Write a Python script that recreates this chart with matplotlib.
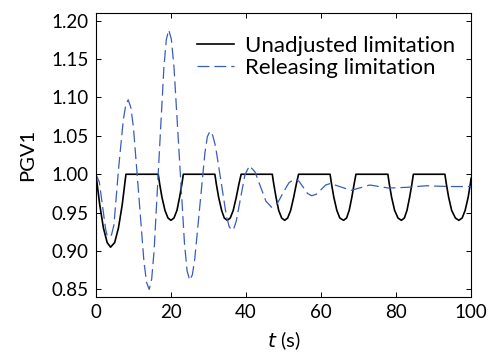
import matplotlib
matplotlib.use('Agg')
import matplotlib.pyplot as plt

# Unadjusted limitation (black, solid)
t_unadj = [0.0, 1.0, 2.0, 3.0, 3.9, 5.0, 6.0, 7.0, 8.0,
           16.6, 17.0, 17.6, 18.4, 19.2, 20.0, 20.8, 21.6, 22.3, 22.9, 23.3,
           31.7, 32.1, 32.7, 33.5, 34.2, 35.0, 35.8, 36.6, 37.4, 38.1, 38.7,
           47.0, 47.4, 48.0, 48.7, 49.5, 50.3, 51.1, 51.9, 52.7, 53.4, 54.0,
           62.4, 62.8, 63.4, 64.2, 65.0, 66.0, 66.8, 67.5, 68.2, 68.8, 69.3,
           77.8, 78.2, 78.8, 79.6, 80.5, 81.4, 82.2, 82.9, 83.6, 84.2, 84.6,
           93.0, 93.4, 94.0, 94.8, 95.8, 96.7, 97.6, 98.4, 99.2, 99.7, 100.0]
pgv_unadj = [1.000, 0.961, 0.930, 0.911, 0.905, 0.911, 0.930, 0.960, 1.000,
             1.000, 0.987, 0.970, 0.953, 0.943, 0.940, 0.943, 0.953, 0.970, 0.987, 1.000,
             1.000, 0.987, 0.970, 0.953, 0.943, 0.940, 0.943, 0.953, 0.970, 0.987, 1.000,
             1.000, 0.987, 0.970, 0.953, 0.943, 0.940, 0.943, 0.953, 0.970, 0.987, 1.000,
             1.000, 0.987, 0.970, 0.953, 0.943, 0.940, 0.943, 0.953, 0.970, 0.987, 1.000,
             1.000, 0.987, 0.970, 0.953, 0.943, 0.940, 0.943, 0.953, 0.970, 0.987, 1.000,
             1.000, 0.987, 0.970, 0.953, 0.943, 0.940, 0.943, 0.953, 0.970, 0.985, 0.995]

# Releasing limitation (blue, dashed)
t_rel = [0.0, 0.9, 1.75, 2.6, 2.95, 3.5, 4.15, 4.8, 6.05, 7.3, 7.95, 8.6, 9.3,
         10.0, 11.4, 12.8, 13.5, 14.2, 14.85, 15.5, 16.8, 18.1, 18.75, 19.4, 20.1,
         20.8, 22.2, 23.6, 24.3, 25.0, 25.7, 26.35, 27.7, 29.05, 29.7, 30.4, 31.1,
         31.85, 33.3, 34.75, 35.5, 36.2, 36.8, 37.4, 38.55, 39.7, 40.9,
         42.4, 43.85, 45.3, 46.8, 48.35, 49.9, 51.45, 53.0,
         54.1, 55.25, 56.4, 57.5, 58.75, 60.0, 61.25, 62.5,
         65.25, 68.0, 70.5, 73.0, 78.0, 83.0, 88.0, 94.0, 100.0]
pgv_rel = [1.000, 0.990, 0.959, 0.928, 0.921, 0.918, 0.921, 0.934, 1.008, 1.071, 1.090, 1.097, 1.087,
           1.061, 0.974, 0.886, 0.859, 0.850, 0.863, 0.900, 1.019, 1.138, 1.175, 1.188, 1.176,
           1.140, 1.025, 0.910, 0.874, 0.862, 0.869, 0.890, 0.959, 1.028, 1.049, 1.056, 1.051,
           1.037, 0.992, 0.946, 0.932, 0.927, 0.930, 0.939, 0.969, 0.999, 1.011,
           1.003, 0.984, 0.965, 0.957, 0.962, 0.976, 0.989, 0.994,
           0.991, 0.983, 0.975, 0.972, 0.974, 0.980, 0.986, 0.988,
           0.9835, 0.979, 0.9825, 0.986, 0.982, 0.983, 0.985, 0.984, 0.984]

plt.rcParams['font.family'] = ['Lato', 'DejaVu Sans']

fig = plt.figure(figsize=(4.97, 3.52), dpi=100)
ax = fig.add_axes([0.193, 0.156, 0.755, 0.807])

ax.plot(t_unadj, pgv_unadj, color='black', linewidth=1.2, label='Unadjusted limitation')
ax.plot(t_rel, pgv_rel, color='#3a5cbf', linewidth=0.9, linestyle=(0, (9.5, 4)),
        label='Releasing limitation')

ax.set_xlim(0, 100)
ax.set_ylim(0.84, 1.21)
ax.set_xticks([0, 20, 40, 60, 80, 100])
ax.set_yticks([0.85, 0.90, 0.95, 1.00, 1.05, 1.10, 1.15, 1.20])
ax.set_yticklabels(['0.85', '0.90', '0.95', '1.00', '1.05', '1.10', '1.15', '1.20'])
ax.tick_params(direction='in', top=True, right=True, length=3.5, width=0.7,
               labelsize=13.5, pad=5)
for s in ax.spines.values():
    s.set_linewidth(0.8)

ax.set_xlabel(r'$\mathit{t}$ (s)', fontsize=14.5, labelpad=6)
ax.set_ylabel('PGV1', fontsize=14.5, labelpad=11)

ax.legend(loc='upper right', bbox_to_anchor=(1.0, 0.975), frameon=False,
          fontsize=16, handlelength=1.7, handletextpad=0.5,
          labelspacing=0.1, borderaxespad=0.3)

fig.savefig('out.png', dpi=100)
